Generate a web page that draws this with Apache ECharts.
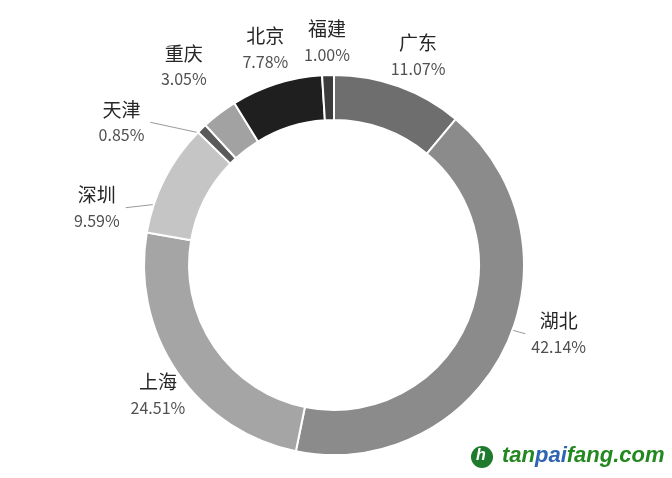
<!DOCTYPE html>
<html>
<head>
<meta charset="utf-8">
<script src="https://cdn.jsdelivr.net/npm/echarts@6/dist/echarts.min.js"></script>
<style>
  html, body { margin: 0; padding: 0; background: #ffffff; }
  #chart { width: 672px; height: 478px; }
</style>
</head>
<body>
<div id="chart"></div>
<script>
// ---- data ----
const categories = ['广东', '湖北', '上海', '深圳', '天津', '重庆', '北京', '福建'];
const shares = [11.07, 42.14, 24.51, 9.59, 0.85, 3.05, 7.78, 1.00];
const sliceColors = ['#6e6e6e', '#8b8b8b', '#a5a5a5', '#c5c5c5', '#5a5a5a', '#a2a2a2', '#1f1f1f', '#3c3c3c'];
// label nudges (degrees / px) used to avoid crowding, and whether a leader line is drawn
const labelAngleShift = [2, -8.7, -2.2, -13.5, -12, 0, 0, 0];
const labelDistShift = [2, 12, -4, 21, 33, 26, 4, 0];
const lineBlend = [0, 0.35, 0, 0.37, 0.86, 0, 0, 0];

// ---- layout constants ----
const CX = 334, CY = 265, R_IN = 145, R_OUT = 190, LABEL_GAP = 33;

const total = shares.reduce((a, b) => a + b, 0);
const midAngles = [];
(function () {
  let acc = 0;
  shares.forEach(v => { midAngles.push((acc + v / 2) / total * 360); acc += v; });
})();

const chart = echarts.init(document.getElementById('chart'));
const option = {
  backgroundColor: '#ffffff',
  animation: false,
  series: [{
    type: 'pie',
    center: [CX, CY],
    radius: [R_IN, R_OUT],
    startAngle: 90,
    clockwise: true,
    avoidLabelOverlap: false,
    itemStyle: { borderColor: '#ffffff', borderWidth: 2 },
    label: {
      show: true,
      position: 'outside',
      formatter: p => '{n|' + p.name + '}\n{p|' + p.value.toFixed(2) + '%}',
      rich: {
        n: { fontSize: 19, color: '#262626', lineHeight: 26, fontFamily: '"Noto Sans CJK SC", sans-serif', align: 'center' },
        p: { fontSize: 16, color: '#505050', lineHeight: 26, fontFamily: '"Noto Sans CJK SC", sans-serif', align: 'center' }
      }
    },
    labelLine: { show: true, lineStyle: { color: '#9a9a9a', width: 1 }, length: 10, length2: 10 },
    labelLayout: function (p) {
      const i = p.dataIndex;
      const a = (midAngles[i] + labelAngleShift[i]) * Math.PI / 180;
      const d = R_OUT + LABEL_GAP + labelDistShift[i];
      const x = CX + d * Math.sin(a);
      const y = CY - d * Math.cos(a);
      const res = { x: x, y: y, align: 'center', verticalAlign: 'middle' };
      if (lineBlend[i] > 0) {
        const la = (midAngles[i] + labelAngleShift[i] * (1 - lineBlend[i])) * Math.PI / 180;
        const sx = CX + R_OUT * Math.sin(la), sy = CY - R_OUT * Math.cos(la);
        const w = p.labelRect.width;
        const ex = x + (Math.sin(a) > 0 ? -w / 2 - 6 : w / 2 + 6);
        res.labelLinePoints = [[sx, sy], [(sx + ex) / 2, (sy + y) / 2], [ex, y]];
      } else {
        res.labelLinePoints = [[x, y], [x, y], [x, y]];
      }
      return res;
    },
    data: categories.map((c, i) => ({
      name: c,
      value: shares[i],
      itemStyle: { color: sliceColors[i] }
    }))
  }],
  graphic: [
    {
      type: 'group',
      left: 471,
      top: 445,
      children: [
        { type: 'circle', shape: { cx: 12, cy: 12, r: 11 }, style: { fill: '#1f7a2e' } },
        { type: 'text', x: 6, y: 3, style: { text: 'h', fill: '#ffffff', font: 'italic bold 16px "Liberation Sans", sans-serif' } },
        {
          type: 'text', x: 32, y: 0,
          style: {
            text: '{g|tan}{b|pai}{g|fang.com}',
            rich: {
              g: { fill: '#22881f', font: 'italic bold 22px "Liberation Sans", sans-serif' },
              b: { fill: '#2f63b3', font: 'italic bold 22px "Liberation Sans", sans-serif' }
            }
          }
        }
      ]
    }
  ]
};
chart.setOption(option);
</script>
</body>
</html>
